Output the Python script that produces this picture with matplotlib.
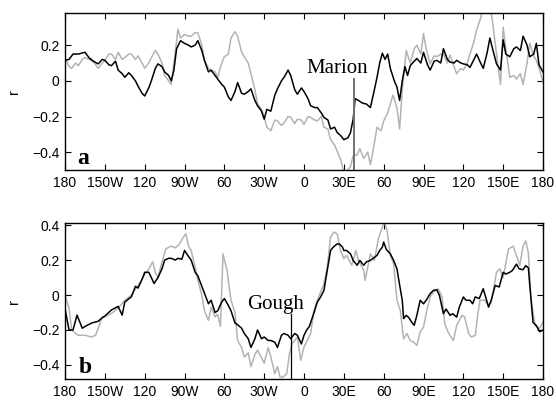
import matplotlib
matplotlib.use('Agg')
import matplotlib.pyplot as plt
import numpy as np

# panel a (Marion) - black and grey correlation curves
lon_a_k = [-180, -177, -174, -170, -165, -162, -160, -155, -152, -150, -147, -145, -142, -140, -137, -135,
           -132, -130, -127, -125, -122, -120, -117, -115, -112, -110, -107, -105, -102, -100, -98, -96,
           -93, -90, -87, -85, -82, -80, -77, -75, -72, -70, -67, -65, -62, -60, -57, -55, -52, -50,
           -47, -45, -42, -40, -37, -35, -32, -30, -28, -25, -22, -20, -17, -15, -12, -10, -7, -5, -2,
           0, 3, 5, 8, 10, 13, 15, 18, 20, 23, 25, 28, 30, 33, 35, 37, 38.5, 41, 44, 47, 50, 53, 55, 57,
           59, 61, 63, 65, 68, 70, 72, 74, 76, 78, 80, 83, 85, 88, 90, 93, 95, 98, 100, 103, 105, 108,
           110, 113, 115, 118, 120, 123, 125, 128, 130, 133, 135, 138, 140, 142, 145, 148, 150, 152, 155,
           158, 160, 163, 165, 168, 170, 173, 175, 177, 180]
r_a_k = [0.115, 0.12, 0.15, 0.15, 0.16, 0.13, 0.115, 0.095, 0.12, 0.115, 0.09, 0.085, 0.11, 0.06, 0.04, 0.02,
         0.045, 0.03, 0.0, -0.03, -0.07, -0.085, -0.04, 0.0, 0.07, 0.095, 0.08, 0.05, 0.03, 0.0, 0.06, 0.18,
         0.225, 0.21, 0.2, 0.19, 0.2, 0.225, 0.17, 0.115, 0.05, 0.06, 0.03, 0.01, -0.02, -0.035, -0.09, -0.11,
         -0.06, -0.01, -0.07, -0.075, -0.06, -0.045, -0.11, -0.14, -0.17, -0.215, -0.16, -0.17, -0.08,
         -0.045, 0.0, 0.02, 0.06, 0.03, -0.05, -0.075, -0.04, -0.06, -0.1, -0.14, -0.15, -0.15, -0.18,
         -0.205, -0.22, -0.27, -0.26, -0.29, -0.31, -0.33, -0.32, -0.29, -0.215, -0.10, -0.11, -0.125,
         -0.13, -0.15, -0.05, 0.02, 0.1, 0.155, 0.12, 0.15, 0.07, 0.0, -0.035, -0.11, 0.0, 0.08, 0.03,
         0.085, 0.11, 0.125, 0.1, 0.16, 0.09, 0.06, 0.11, 0.115, 0.1, 0.18, 0.12, 0.105, 0.1, 0.115, 0.1,
         0.095, 0.09, 0.075, 0.12, 0.15, 0.1, 0.07, 0.16, 0.24, 0.18, 0.095, 0.06, 0.23, 0.15, 0.135,
         0.18, 0.19, 0.17, 0.25, 0.2, 0.135, 0.15, 0.21, 0.09, 0.05]

lon_a_g = [-180, -177, -175, -172, -170, -167, -165, -162, -160, -157, -155, -152, -150, -147, -145, -142,
           -140, -137, -135, -132, -130, -127, -125, -122, -120, -117, -115, -112, -110, -107, -105, -102,
           -100, -98, -96, -95, -93, -90, -87, -85, -82, -80, -77, -75, -72, -70, -67, -65, -62, -60, -57,
           -55, -52, -50, -47, -45, -42, -40, -37, -35, -32, -30, -28, -25, -22, -20, -17, -15, -12, -10,
           -7, -5, -2, 0, 3, 5, 8, 10, 13, 15, 18, 20, 23, 25, 28, 30, 33, 35, 37, 40, 42, 45, 48, 50, 53,
           55, 58, 60, 63, 65, 67, 70, 72, 74, 77, 80, 83, 85, 88, 90, 92, 95, 98, 100, 103, 105, 108, 110,
           113, 115, 118, 120, 123, 125, 128, 130, 133, 135, 138, 140, 142, 145, 148, 150, 152, 155, 158,
           160, 163, 165, 168, 170, 173, 175, 178, 180]
r_a_g = [0.13, 0.08, 0.07, 0.1, 0.085, 0.12, 0.13, 0.12, 0.125, 0.09, 0.07, 0.1, 0.115, 0.15, 0.15, 0.12,
         0.16, 0.12, 0.13, 0.15, 0.15, 0.12, 0.14, 0.1, 0.07, 0.1, 0.13, 0.17, 0.15, 0.1, 0.03, 0.0,
         -0.02, 0.1, 0.22, 0.29, 0.24, 0.26, 0.25, 0.25, 0.27, 0.27, 0.2, 0.115, 0.07, 0.06, 0.05, 0.02,
         0.1, 0.135, 0.15, 0.24, 0.275, 0.25, 0.16, 0.135, 0.1, 0.04, -0.05, -0.13, -0.16, -0.205, -0.26,
         -0.28, -0.22, -0.225, -0.25, -0.235, -0.2, -0.205, -0.24, -0.215, -0.22, -0.245, -0.2, -0.205,
         -0.22, -0.225, -0.2, -0.26, -0.27, -0.33, -0.36, -0.395, -0.45, -0.52, -0.5, -0.48, -0.42,
         -0.415, -0.38, -0.435, -0.4, -0.47, -0.35, -0.26, -0.28, -0.225, -0.18, -0.13, -0.08, -0.15,
         -0.27, -0.05, 0.17, 0.1, 0.18, 0.2, 0.15, 0.265, 0.18, 0.095, 0.14, 0.135, 0.15, 0.15, 0.1, 0.145,
         0.08, 0.04, 0.07, 0.06, 0.1, 0.15, 0.22, 0.285, 0.35, 0.42, 0.38, 0.42, 0.33, 0.15, -0.02, 0.30,
         0.18, 0.02, 0.03, 0.01, 0.04, -0.02, 0.1, 0.21, 0.14, 0.115, 0.05, -0.01]

# panel b (Gough)
lon_b_k = [-180, -177, -174, -171, -167, -165, -160, -155, -152, -150, -145, -140, -137, -135, -130, -127,
           -125, -122, -120, -117, -115, -113, -110, -107, -105, -102, -100, -97, -95, -92, -90, -87, -85,
           -82, -80, -77, -75, -72, -70, -67, -65, -62, -60, -57, -55, -52, -50, -47, -45, -42, -40, -37,
           -35, -32, -30, -27, -25, -22, -20, -17, -15, -12, -10, -7, -5, -2, 0, 2, 4, 6, 8, 10, 12.5, 15,
           17.5, 20, 22, 25, 27, 29, 30, 32, 35, 37, 40, 42, 45, 47, 50, 52, 55, 57, 59, 60, 62, 65, 67.5,
           70, 71, 74, 75, 77, 79, 81, 83, 85, 87.5, 90, 92, 95, 97.5, 100, 102, 105, 107, 110, 112, 115,
           117, 120, 122, 125, 127, 129, 132, 135, 139, 141, 144, 147, 150, 152, 155, 157, 160, 162, 165,
           167, 169, 170, 172.5, 175, 177.5, 180]
r_b_k = [-0.08, -0.2, -0.2, -0.115, -0.19, -0.18, -0.16, -0.15, -0.13, -0.12, -0.085, -0.065, -0.115,
         -0.04, -0.01, 0.05, 0.04, 0.09, 0.13, 0.13, 0.1, 0.066, 0.1, 0.15, 0.2, 0.21, 0.21, 0.2, 0.21,
         0.205, 0.255, 0.22, 0.2, 0.13, 0.11, 0.05, 0.01, -0.05, -0.03, -0.1, -0.09, -0.04, -0.02, -0.06,
         -0.09, -0.16, -0.17, -0.19, -0.22, -0.25, -0.3, -0.25, -0.2, -0.25, -0.24, -0.26, -0.26, -0.27,
         -0.3, -0.23, -0.22, -0.23, -0.25, -0.22, -0.23, -0.28, -0.23, -0.2, -0.18, -0.135, -0.09, -0.04,
         -0.011, 0.027, 0.14, 0.255, 0.274, 0.293, 0.29, 0.274, 0.255, 0.255, 0.236, 0.198, 0.17, 0.198,
         0.17, 0.19, 0.198, 0.21, 0.227, 0.255, 0.274, 0.303, 0.26, 0.236, 0.198, 0.15, 0.103, -0.03,
         -0.135, -0.116, -0.13, -0.154, -0.173, -0.116, -0.03, -0.05, -0.03, 0.008, 0.027, 0.03, -0.002,
         -0.107, -0.08, -0.116, -0.107, -0.126, -0.069, -0.011, -0.03, -0.03, -0.05, -0.011, -0.02, 0.036,
         -0.069, -0.03, 0.055, 0.046, 0.13, 0.12, 0.13, 0.141, 0.177, 0.15, 0.145, 0.168, 0.155, 0.06,
         -0.156, -0.175, -0.21, -0.2]

lon_b_g = [-180, -177, -175, -172, -170, -165, -160, -157, -155, -152, -150, -145, -140, -135, -130, -125,
           -120, -116, -114, -112, -110, -107, -104, -100, -97, -94, -91, -89, -87, -85, -82, -80, -77, -75,
           -72, -70, -67, -65, -63, -61, -58, -55, -52, -50, -47, -45, -42, -40, -37, -35, -32, -30, -27,
           -25, -22, -20, -18, -16, -13, -11, -9, -5, -2.5, 0, 2.5, 5, 7.5, 11, 15, 17.5, 20, 22.5, 25,
           27.5, 30, 32, 36, 39, 41, 45, 46, 50, 53, 56, 59, 60.5, 62.5, 65, 67.5, 70, 72.5, 75, 77.5, 80,
           82.5, 85, 87.5, 90, 92.5, 95, 97.5, 101, 104, 106, 109, 112.5, 115, 119, 121, 124, 126, 129, 131,
           132.5, 136, 139, 141, 145, 147.5, 150, 154, 157.5, 160, 162.5, 165, 167, 169, 171, 174, 177.5, 180]
r_b_g = [0.0, -0.075, -0.2, -0.22, -0.23, -0.23, -0.24, -0.23, -0.19, -0.125, -0.125, -0.105, -0.075,
         -0.03, 0.0, 0.055, 0.115, 0.16, 0.19, 0.13, 0.1, 0.19, 0.265, 0.28, 0.27, 0.29, 0.33, 0.35, 0.28,
         0.255, 0.16, 0.085, 0.0, -0.09, -0.145, -0.07, -0.125, -0.11, -0.18, 0.235, 0.14, -0.03, -0.1,
         -0.26, -0.3, -0.355, -0.33, -0.41, -0.34, -0.315, -0.36, -0.39, -0.3, -0.354, -0.45, -0.41, -0.47,
         -0.47, -0.45, -0.335, -0.278, -0.24, -0.373, -0.297, -0.26, -0.22, -0.088, -0.011, 0.065, 0.16,
         0.331, 0.36, 0.35, 0.255, 0.208, 0.227, 0.17, 0.255, 0.198, 0.141, 0.084, 0.236, 0.198, 0.322,
         0.389, 0.42, 0.37, 0.227, 0.179, -0.03, -0.088, -0.25, -0.22, -0.26, -0.269, -0.288, -0.211,
         -0.183, -0.088, -0.011, 0.017, 0.036, -0.011, -0.164, -0.22, -0.26, -0.173, -0.116, -0.126,
         -0.22, -0.24, -0.23, -0.107, -0.03, -0.03, -0.059, -0.04, 0.13, 0.15, 0.1, 0.263, 0.28, 0.225,
         0.17, 0.28, 0.31, 0.24, -0.02, -0.175, -0.19, -0.155]

xticks = [-180, -150, -120, -90, -60, -30, 0, 30, 60, 90, 120, 150, 180]
xlabels = ['180', '150W', '120', '90W', '60', '30W', '0', '30E', '60', '90E', '120', '150E', '180']

plt.rcParams['font.family'] = ['Liberation Sans', 'DejaVu Sans']
grey = '#b3b3b3'

fig = plt.figure(figsize=(5.56, 4.01), dpi=100)
ax1 = fig.add_axes([0.117, 0.576, 0.8596, 0.3915])
ax2 = fig.add_axes([0.117, 0.055, 0.8596, 0.388])

ax1.plot(lon_a_g, r_a_g, color=grey, lw=1.1)
ax1.plot(lon_a_k, r_a_k, color='black', lw=1.1)
ax1.plot([37.8, 37.8], [0.012, -0.6], color='#707070', lw=1.4)
ax1.set_ylim(-0.5, 0.38)
ax1.set_yticks([-0.4, -0.2, 0, 0.2])
ax1.set_yticklabels(['\u22120.4', '\u22120.2', '0', '0.2'])
ax1.text(24.7, 0.043, 'Marion', family='Liberation Serif', fontsize=15, ha='center', va='baseline')
ax1.text(-171, -0.468, 'a', family='Liberation Serif', fontsize=17, fontweight='bold', va='baseline')

ax2.plot(lon_b_g, r_b_g, color=grey, lw=1.1)
ax2.plot(lon_b_k, r_b_k, color='black', lw=1.1)
ax2.plot([-9.9, -9.9], [-0.11, -0.6], color='black', lw=0.9)
ax2.set_ylim(-0.48, 0.41)
ax2.set_yticks([-0.4, -0.2, 0, 0.2, 0.4])
ax2.set_yticklabels(['\u22120.4', '\u22120.2', '0', '0.2', '0.4'])
ax2.text(-21.7, -0.08, 'Gough', family='Liberation Serif', fontsize=15, ha='center', va='baseline')
ax2.text(-170, -0.447, 'b', family='Liberation Serif', fontsize=17, fontweight='bold', va='baseline')

for ax in (ax1, ax2):
    ax.set_xlim(-180, 180)
    ax.set_xticks(xticks)
    ax.set_xticklabels(xlabels)
    ax.tick_params(direction='in', top=True, right=True, length=4, width=0.8, labelsize=10, pad=4)
    ax.set_ylabel('r', fontsize=10.5, labelpad=8)
    for s in ax.spines.values():
        s.set_linewidth(1.0)

fig.savefig('out.png', dpi=100)
